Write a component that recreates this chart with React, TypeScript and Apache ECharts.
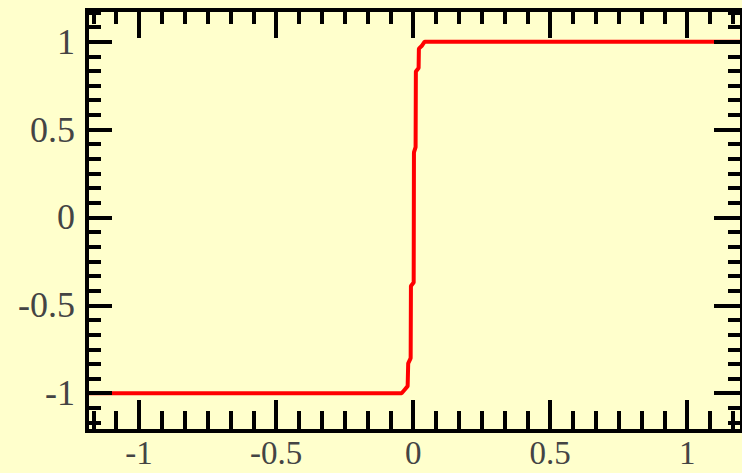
import React, { useEffect, useRef } from 'react';
import * as echarts from 'echarts';

// Curve samples
const curveX = [-1.2, -0.042, -0.031, -0.02, -0.018, -0.009, -0.008, 0.002, 0.003, 0.009, 0.01, 0.02, 0.021, 0.031, 0.042, 1.2];
const curveY = [-1, -1, -0.98, -0.96, -0.83, -0.8, -0.39, -0.37, 0.37, 0.4, 0.83, 0.85, 0.96, 0.975, 1, 1];

// Axis ranges and tick labels
const X_RANGE = [-1.19, 1.2];
const Y_RANGE = [-1.215, 1.18];
const xMajor = [-1, -0.5, 0, 0.5, 1];
const xLabels = ['-1', '-0.5', '0', '0.5', '1'];
const yMajor = [-1, -0.5, 0, 0.5, 1];
const yLabels = ['-1', '-0.5', '0', '0.5', '1'];
const MINOR_DIVISIONS = 6;

function minorTicks(major: number[], range: number[]): number[] {
  const step = (major[1] - major[0]) / MINOR_DIVISIONS;
  const out: number[] = [];
  const start = Math.ceil(range[0] / step - 1e-9);
  const end = Math.floor(range[1] / step + 1e-9);
  for (let i = start; i <= end; i++) {
    if (i % MINOR_DIVISIONS === 0) continue;
    out.push(Math.round(i * step * 1e6) / 1e6);
  }
  return out;
}

export default function App() {
  const ref = useRef<HTMLDivElement>(null);
  useEffect(() => {
    if (!ref.current) return;
    const chart = echarts.init(ref.current, undefined, { renderer: 'svg' });
    const xMinor = minorTicks(xMajor, X_RANGE);
    const yMinor = minorTicks(yMajor, Y_RANGE);
    const black = '#000000';
    const lineStyle = { color: black, width: 4, cap: 'square' as const };
    const tickStyle = { color: black, width: 4 };
    const family = '"Liberation Serif", "Times New Roman", serif';
    const labelColor = '#444444';
    const baseX = {
      type: 'value' as const,
      min: X_RANGE[0],
      max: X_RANGE[1],
      splitLine: { show: false },
      z: 10,
    };
    const baseY = {
      type: 'value' as const,
      min: Y_RANGE[0],
      max: Y_RANGE[1],
      splitLine: { show: false },
      z: 10,
    };
    const data = curveX.map((x, i) => [x, curveY[i]]);
    chart.setOption({
      animation: false,
      backgroundColor: '#FFFFCC',
      grid: { left: 87, top: 10, width: 660, height: 421, containLabel: false },
      xAxis: [
        {
          ...baseX,
          position: 'bottom',
          axisLine: { show: true, onZero: false, lineStyle },
          axisTick: { show: true, inside: true, length: 31, customValues: xMajor, lineStyle: tickStyle },
          axisLabel: {
            show: true,
            customValues: xMajor,
            margin: 9,
            fontSize: 33,
            lineHeight: 26,
            fontFamily: family,
            color: labelColor,
            formatter: (v: number) => {
              const i = xMajor.findIndex((m) => Math.abs(m - v) < 1e-9);
              return i >= 0 ? xLabels[i] : '';
            },
          },
        },
        {
          ...baseX,
          position: 'bottom',
          axisLine: { show: false, onZero: false },
          axisTick: { show: true, inside: true, length: 20, customValues: xMinor, lineStyle: tickStyle },
          axisLabel: { show: false },
        },
        {
          ...baseX,
          position: 'top',
          axisLine: { show: true, onZero: false, lineStyle },
          axisTick: { show: true, inside: true, length: 28, customValues: xMajor, lineStyle: tickStyle },
          axisLabel: { show: false },
        },
        {
          ...baseX,
          position: 'top',
          axisLine: { show: false, onZero: false },
          axisTick: { show: true, inside: true, length: 14, customValues: xMinor, lineStyle: tickStyle },
          axisLabel: { show: false },
        },
      ],
      yAxis: [
        {
          ...baseY,
          position: 'left',
          axisLine: { show: true, onZero: false, lineStyle },
          axisTick: { show: true, inside: true, length: 25, customValues: yMajor, lineStyle: tickStyle },
          axisLabel: {
            show: true,
            customValues: yMajor,
            margin: 12,
            fontSize: 36,
            lineHeight: 28,
            fontFamily: family,
            color: labelColor,
            formatter: (v: number) => {
              const i = yMajor.findIndex((m) => Math.abs(m - v) < 1e-9);
              return i >= 0 ? yLabels[i] : '';
            },
          },
        },
        {
          ...baseY,
          position: 'left',
          axisLine: { show: false, onZero: false },
          axisTick: { show: true, inside: true, length: 14, customValues: yMinor, lineStyle: tickStyle },
          axisLabel: { show: false },
        },
        {
          ...baseY,
          position: 'right',
          axisLine: { show: true, onZero: false, lineStyle },
          axisTick: { show: true, inside: true, length: 28, customValues: yMajor, lineStyle: tickStyle },
          axisLabel: { show: false },
        },
        {
          ...baseY,
          position: 'right',
          axisLine: { show: false, onZero: false },
          axisTick: { show: true, inside: true, length: 14, customValues: yMinor, lineStyle: tickStyle },
          axisLabel: { show: false },
        },
      ],
      series: [
        {
          type: 'line',
          xAxisIndex: 0,
          yAxisIndex: 0,
          data,
          showSymbol: false,
          symbol: 'none',
          clip: false,
          z: 1,
          lineStyle: { color: '#FF0000', width: 4 },
        },
      ],
    });
    return () => chart.dispose();
  }, []);
  return (
    <div
      ref={ref}
      style={{ position: 'fixed', left: 0, top: 0, width: 742, height: 473 }}
    />
  );
}
